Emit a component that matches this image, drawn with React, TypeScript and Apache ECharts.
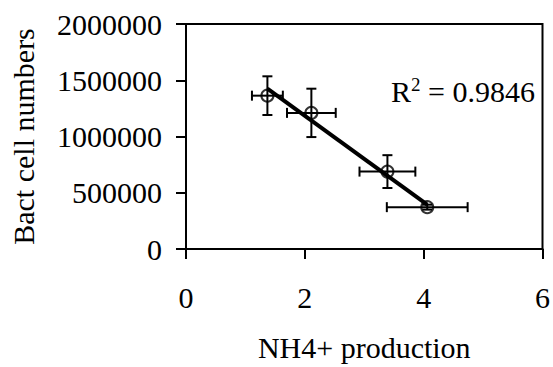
import React, { useEffect, useRef } from "react";
import * as echarts from "echarts";

const xValues = [1.37, 2.11, 3.39, 4.06];
const yValues = [1363000, 1210000, 688000, 372000];
const xErrors = [0.26, 0.41, 0.47, 0.68];
const yErrors = [172000, 215000, 146000, 22000];
const trendX = [1.37, 4.06];
const trendY = [1425000, 395000];
const xTicks = [0, 2, 4, 6];
const yTicks = [0, 500000, 1000000, 1500000, 2000000];
const xTitle = "NH4+ production";
const yTitle = "Bact cell numbers";
const r2Text = "0.9846";

const FONT = '"Liberation Serif", "Times New Roman", serif';
const FS = 30;

export default function App() {
  const ref = useRef<HTMLDivElement>(null);
  useEffect(() => {
    document.body.style.margin = "0";
    if (!ref.current) return;
    const chart = echarts.init(ref.current, undefined, { renderer: "svg" });
    const errData = xValues.map((x, i) => [x, yValues[i], xErrors[i], yErrors[i]]);
    const option: any = {
      animation: false,
      backgroundColor: "#ffffff",
      grid: {
        left: 183,
        right: 5,
        top: 24,
        bottom: 115,
        show: true,
        borderColor: "#000",
        borderWidth: 2,
        backgroundColor: "transparent",
      },
      xAxis: {
        type: "value",
        min: xTicks[0],
        max: xTicks[xTicks.length - 1],
        interval: 2,
        name: xTitle,
        nameLocation: "middle",
        nameGap: 83,
        nameTextStyle: { fontFamily: FONT, fontSize: FS, color: "#000" },
        axisLine: { show: true, lineStyle: { color: "#000", width: 2 } },
        axisTick: { show: true, inside: false, length: 10, lineStyle: { color: "#000", width: 2 } },
        axisLabel: { fontFamily: FONT, fontSize: FS, color: "#000", margin: 33 },
        splitLine: { show: false },
      },
      yAxis: {
        type: "value",
        min: yTicks[0],
        max: yTicks[yTicks.length - 1],
        interval: 500000,
        name: yTitle,
        nameLocation: "middle",
        nameRotate: 90,
        nameGap: 148,
        nameTextStyle: { fontFamily: FONT, fontSize: FS, color: "#000" },
        axisLine: { show: true, lineStyle: { color: "#000", width: 2 } },
        axisTick: { show: true, inside: false, length: 10, lineStyle: { color: "#000", width: 2 } },
        axisLabel: {
          fontFamily: FONT,
          fontSize: FS,
          color: "#000",
          margin: 24,
          formatter: (v: number) => String(v),
        },
        splitLine: { show: false },
      },
      series: [
        {
          type: "custom",
          data: errData,
          z: 2,
          renderItem: (params: any, api: any) => {
            const x = api.value(0);
            const y = api.value(1);
            const dx = api.value(2);
            const dy = api.value(3);
            const c = api.coord([x, y]);
            const l = api.coord([x - dx, y]);
            const r = api.coord([x + dx, y]);
            const t = api.coord([x, y + dy]);
            const b = api.coord([x, y - dy]);
            const cap = 5;
            const style = { stroke: "#000", lineWidth: 2 };
            return {
              type: "group",
              children: [
                { type: "line", shape: { x1: l[0], y1: c[1], x2: r[0], y2: c[1] }, style },
                { type: "line", shape: { x1: l[0], y1: c[1] - cap, x2: l[0], y2: c[1] + cap }, style },
                { type: "line", shape: { x1: r[0], y1: c[1] - cap, x2: r[0], y2: c[1] + cap }, style },
                { type: "line", shape: { x1: c[0], y1: t[1], x2: c[0], y2: b[1] }, style },
                { type: "line", shape: { x1: c[0] - cap, y1: t[1], x2: c[0] + cap, y2: t[1] }, style },
                { type: "line", shape: { x1: c[0] - cap, y1: b[1], x2: c[0] + cap, y2: b[1] }, style },
              ],
            };
          },
        },
        {
          type: "line",
          data: trendX.map((x, i) => [x, trendY[i]]),
          showSymbol: false,
          symbol: "none",
          lineStyle: { color: "#000", width: 4 },
          z: 3,
        },
        {
          type: "scatter",
          data: xValues.map((x, i) => [x, yValues[i]]),
          symbol: "circle",
          symbolSize: 12,
          itemStyle: { color: "rgba(0,0,0,0)", borderColor: "#000", borderWidth: 2 },
          z: 4,
        },
      ],
      graphic: [
        {
          type: "text",
          left: 391,
          top: 75,
          style: {
            text: "R{sup|2} = " + r2Text,
            fontFamily: FONT,
            fontSize: FS,
            fill: "#000",
            rich: {
              sup: { fontFamily: FONT, fontSize: 19, verticalAlign: "top", padding: [0, 0, 14, 0] },
            },
          },
        },
      ],
    };
    chart.setOption(option);
    return () => chart.dispose();
  }, []);
  return <div ref={ref} style={{ width: 553, height: 367 }} />;
}
